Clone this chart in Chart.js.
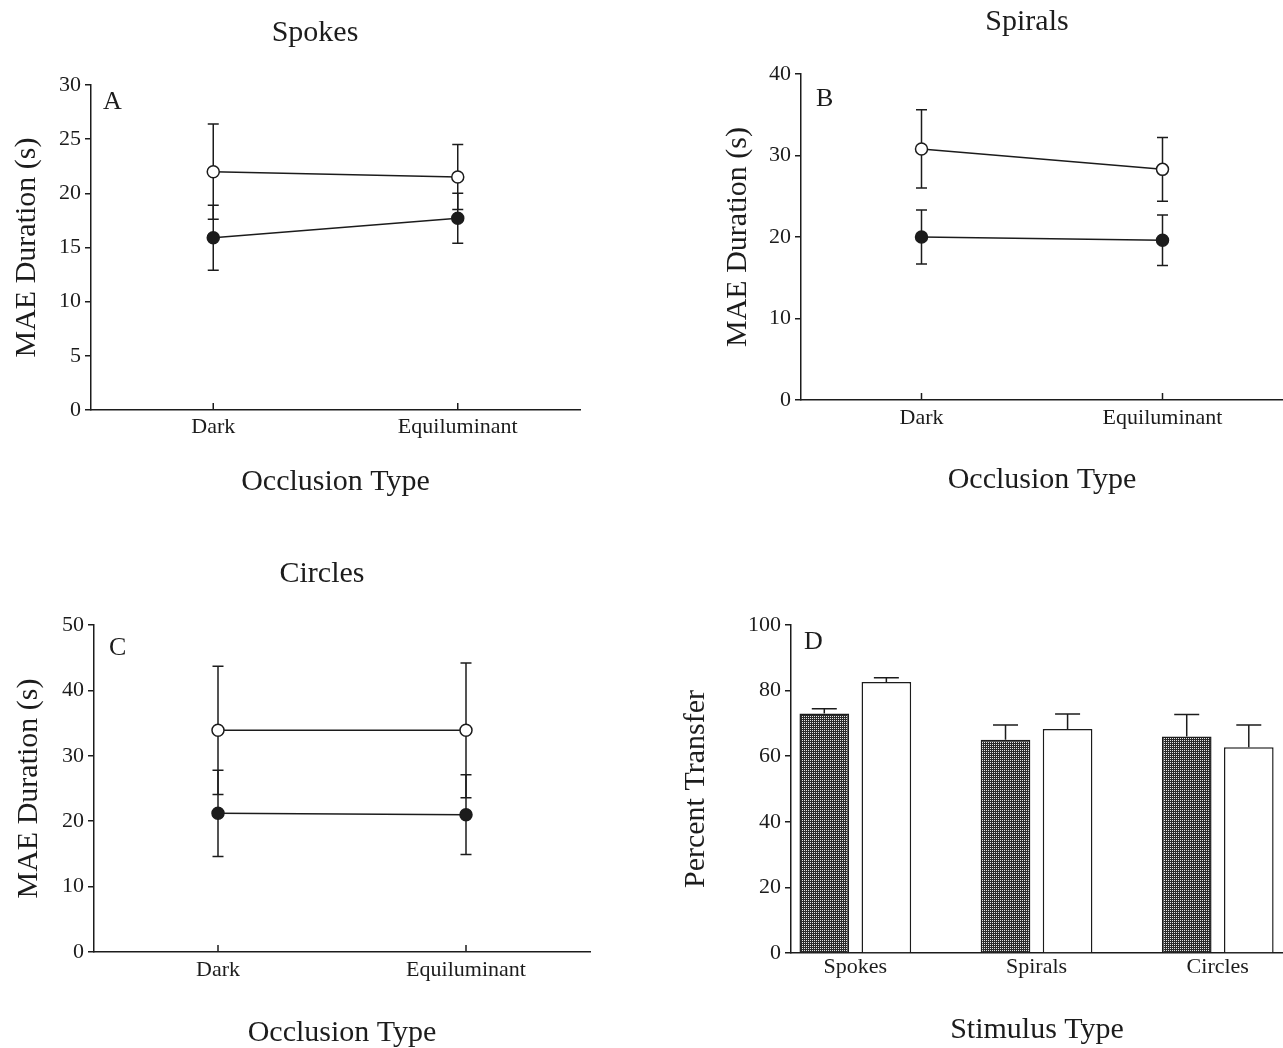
<!DOCTYPE html>
<html>
<head>
<meta charset="utf-8">
<title>MAE duration and percent transfer</title>
<script src="https://cdn.jsdelivr.net/npm/chart.js@4.4.1/dist/chart.umd.min.js"></script>
<style>
  body { margin: 0; background: #fff; overflow: hidden; }
  .panel { position: absolute; }
</style>
</head>
<body>
<div class="panel" style="left:0;top:0"><canvas id="chartA" width="630" height="524"></canvas></div>
<div class="panel" style="left:640px;top:0"><canvas id="chartB" width="703" height="524"></canvas></div>
<div class="panel" style="left:0;top:524px"><canvas id="chartC" width="642" height="527"></canvas></div>
<div class="panel" style="left:640px;top:524px"><canvas id="chartD" width="643" height="527"></canvas></div>
<script>
const occlusionTypes = ['Dark', 'Equiluminant'];
const stimulusTypes = ['Spokes', 'Spirals', 'Circles'];

// A - spokes
const spokesOpen = [22.0, 21.5];
const spokesOpenErr = [4.4, 3.0];
const spokesFilled = [15.9, 17.7];
const spokesFilledErr = [3.0, 2.3];

// B - spirals
const spiralsOpen = [30.8, 28.3];
const spiralsOpenErr = [4.8, 3.9];
const spiralsFilled = [20.0, 19.6];
const spiralsFilledErr = [3.3, 3.1];

// C - circles
const circlesOpen = [33.9, 33.9];
const circlesOpenErr = [9.8, 10.3];
const circlesFilled = [21.2, 21.0];
const circlesFilledErr = [6.6, 6.1];

// D - percent transfer
const transferDark = [73.0, 65.0, 66.0];
const transferDarkErr = [1.5, 4.5, 6.7];
const transferEqui = [82.6, 68.3, 62.7];
const transferEquiErr = [1.3, 4.6, 6.8];

const ink = '#1c1c1c';
const serif = '"Liberation Serif", "Times New Roman", serif';
Chart.defaults.font.family = serif;
Chart.defaults.color = ink;

// error bars + panel letter + inward category ticks
const panelDecor = {
    id: 'panelDecor',
    beforeDatasetsDraw(chart, args, opts) {
        const ctx = chart.ctx;
        const y = chart.scales.y;
        ctx.save();
        ctx.strokeStyle = ink;
        ctx.lineWidth = 1.5;
        chart.data.datasets.forEach((ds, i) => {
            if (!ds.errors) return;
            const meta = chart.getDatasetMeta(i);
            meta.data.forEach((el, j) => {
                const d = ds.data[j];
                const v = typeof d === 'object' ? d.y : d;
                const e = ds.errors[j];
                const top = y.getPixelForValue(v + e);
                const bot = ds.oneSided ? y.getPixelForValue(v) : y.getPixelForValue(v - e);
                const w = ds.capHalf || 5.5;
                ctx.beginPath();
                ctx.moveTo(el.x, top); ctx.lineTo(el.x, bot);
                ctx.moveTo(el.x - w, top); ctx.lineTo(el.x + w, top);
                if (!ds.oneSided) { ctx.moveTo(el.x - w, bot); ctx.lineTo(el.x + w, bot); }
                ctx.stroke();
            });
        });
        ctx.restore();
    },
    afterDraw(chart, args, opts) {
        const ctx = chart.ctx;
        const area = chart.chartArea;
        ctx.save();
        if (opts.inTicks) {
            const x = chart.scales.x;
            ctx.strokeStyle = ink;
            ctx.lineWidth = 1.5;
            x.ticks.forEach((t, k) => {
                const px = x.getPixelForTick(k);
                ctx.beginPath();
                ctx.moveTo(px, area.bottom);
                ctx.lineTo(px, area.bottom - 7);
                ctx.stroke();
            });
        }
        if (opts.letter) {
            ctx.fillStyle = ink;
            ctx.font = '26px ' + serif;
            ctx.textBaseline = 'middle';
            ctx.fillText(opts.letter, area.left + opts.dx, area.top + opts.dy);
        }
        ctx.restore();
    }
};

function yAxis(max, step, title, pad) {
    return {
        min: 0, max: max,
        border: { color: ink, width: 1.5 },
        grid: { drawOnChartArea: false, tickLength: 6, color: ink, lineWidth: 1.5 },
        ticks: { stepSize: step, padding: 4, font: { size: 22 } },
        title: { display: true, text: title, font: { size: 30 }, padding: { top: 9, bottom: pad } }
    };
}

// empty right-hand box so the full-width title sits where the original one does
function spacer(w) {
    return {
        type: 'linear', axis: 'y', position: 'right', display: true,
        grid: { display: false, drawTicks: false },
        border: { display: false },
        ticks: { display: false },
        afterFit: s => { s.width = w; }
    };
}

function makeLineChart(id, p) {
    return new Chart(document.getElementById(id), {
        type: 'line',
        data: {
            labels: occlusionTypes,
            datasets: [
                {
                    label: 'Open symbols', data: p.open, errors: p.openErr,
                    borderColor: ink, borderWidth: 1.5, tension: 0,
                    pointRadius: 6, pointBackgroundColor: '#fff', pointBorderColor: ink, pointBorderWidth: 1.5
                },
                {
                    label: 'Filled symbols', data: p.filled, errors: p.filledErr,
                    borderColor: ink, borderWidth: 1.5, tension: 0,
                    pointRadius: 6, pointBackgroundColor: ink, pointBorderColor: ink, pointBorderWidth: 1.5
                }
            ]
        },
        options: {
            responsive: false,
            animation: false,
            layout: { padding: p.layout },
            plugins: {
                legend: { display: false },
                tooltip: { enabled: false },
                title: {
                    display: true, text: p.title,
                    font: { size: 30, weight: 'normal' },
                    padding: p.titlePad
                },
                panelDecor: { letter: p.letter, dx: p.dx, dy: p.dy, inTicks: true }
            },
            scales: {
                x: {
                    offset: true,
                    border: { color: ink, width: 1.5 },
                    grid: { display: false, drawTicks: false },
                    ticks: { padding: p.xPad, maxRotation: 0, font: { size: 22 } },
                    title: { display: true, text: 'Occlusion Type', font: { size: 30 }, padding: p.xTitlePad }
                },
                y: yAxis(p.max, p.step, 'MAE Duration (s)', p.yTitleBottom),
                pad: spacer(p.rightGap)
            }
        },
        plugins: [panelDecor]
    });
}

makeLineChart('chartA', {
    title: 'Spokes', letter: 'A', dx: 12, dy: 17,
    open: spokesOpen, openErr: spokesOpenErr, filled: spokesFilled, filledErr: spokesFilledErr,
    max: 30, step: 5,
    layout: { left: 0, right: 0, top: 0, bottom: 0 }, rightGap: 50,
    titlePad: { top: 15, bottom: 34 },
    yTitleBottom: 10, xPad: 4, xTitlePad: { top: 19.6, bottom: 24 }
});

makeLineChart('chartB', {
    title: 'Spirals', letter: 'B', dx: 15, dy: 25,
    open: spiralsOpen, openErr: spiralsOpenErr, filled: spiralsFilled, filledErr: spiralsFilledErr,
    max: 40, step: 10,
    layout: { left: 71, right: 0, top: 0, bottom: 0 }, rightGap: 60,
    titlePad: { top: 4, bottom: 34 },
    yTitleBottom: 9, xPad: 5, xTitlePad: { top: 25.6, bottom: 26 }
});

makeLineChart('chartC', {
    title: 'Circles', letter: 'C', dx: 15, dy: 23,
    open: circlesOpen, openErr: circlesOpenErr, filled: circlesFilled, filledErr: circlesFilledErr,
    max: 50, step: 10,
    layout: { left: 2, right: 0, top: 0, bottom: 0 }, rightGap: 52,
    titlePad: { top: 32, bottom: 33 },
    yTitleBottom: 11, xPad: 5, xTitlePad: { top: 26.6, bottom: 0 }
});

// checkered fill for the dark-occlusion bars
function checkerPattern() {
    const c = document.createElement('canvas');
    c.width = 2; c.height = 2;
    const g = c.getContext('2d');
    g.fillStyle = '#2a2a2a';
    g.fillRect(0, 0, 2, 2);
    g.fillStyle = '#e6e6e6';
    g.fillRect(0, 0, 1, 1);
    return g.createPattern(c, 'repeat');
}

new Chart(document.getElementById('chartD'), {
    type: 'bar',
    data: {
        datasets: [
            {
                label: 'Dark', data: transferDark.map((v, i) => ({ x: i, y: v })),
                errors: transferDarkErr, oneSided: true, capHalf: 12.5,
                backgroundColor: checkerPattern(), borderColor: ink, borderWidth: 1.5,
                categoryPercentage: 0.685, barPercentage: 0.8
            },
            {
                label: 'Equiluminant', data: transferEqui.map((v, i) => ({ x: i, y: v })),
                errors: transferEquiErr, oneSided: true, capHalf: 12.5,
                backgroundColor: '#fff', borderColor: ink, borderWidth: 1.5,
                categoryPercentage: 0.685, barPercentage: 0.8
            }
        ]
    },
    options: {
        responsive: false,
        animation: false,
        layout: { padding: { left: 29, right: 0, top: 101, bottom: 0 } },
        plugins: {
            legend: { display: false },
            tooltip: { enabled: false },
            panelDecor: { letter: 'D', dx: 13, dy: 17, inTicks: false }
        },
        scales: {
            x: {
                type: 'linear', min: -0.355, max: 2.36, offset: false,
                border: { color: ink, width: 1.5 },
                grid: { display: false, drawTicks: false },
                ticks: {
                    stepSize: 1, includeBounds: false, padding: 1, maxRotation: 0, autoSkip: false,
                    font: { size: 22 },
                    callback: v => stimulusTypes[v] ?? ''
                },
                title: { display: true, text: 'Stimulus Type', font: { size: 30 }, padding: { top: 30.6, bottom: 3 } }
            },
            y: yAxis(100, 20, 'Percent Transfer', 30)
        }
    },
    plugins: [panelDecor]
});
</script>
</body>
</html>
